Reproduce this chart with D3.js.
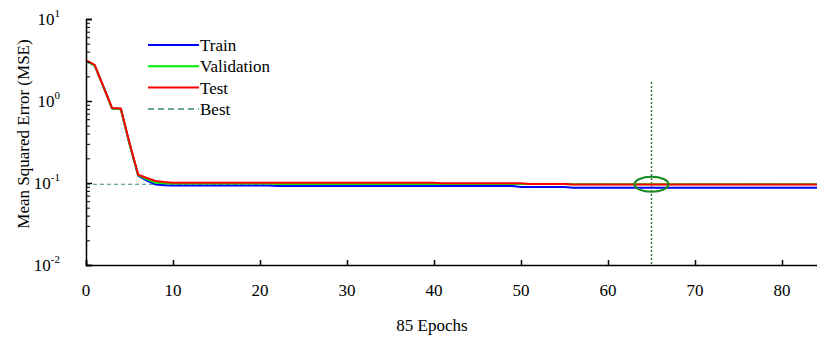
<!DOCTYPE html>
<html>
<head>
<meta charset="utf-8">
<script src="https://cdn.jsdelivr.net/npm/d3@7"></script>
<style>
  body { margin: 0; background: #fff; }
</style>
</head>
<body>
<script>
// canvas size
const width = 817;
const height = 337;
const font = "'Liberation Serif', 'DejaVu Serif', serif";

// data: epochs where the curves bend, and each series' MSE at those epochs
const epochs = [0, 1, 2, 3, 4, 5, 6, 7, 8, 9, 10, 21, 22, 40, 41, 49, 50, 51, 55, 56, 85];
const train = [3.1, 2.7, 1.5, 0.81, 0.8, 0.3, 0.122, 0.107, 0.096, 0.094, 0.0935, 0.0935, 0.092, 0.092, 0.092, 0.092, 0.0895, 0.0895, 0.0895, 0.0878, 0.0878];
const validation = [3.1, 2.7, 1.5, 0.81, 0.8, 0.3, 0.124, 0.111, 0.101, 0.0995, 0.0985, 0.0985, 0.0975, 0.0975, 0.0975, 0.0975, 0.0975, 0.097, 0.097, 0.0965, 0.0965];
const test = [3.15, 2.75, 1.5, 0.82, 0.81, 0.31, 0.126, 0.115, 0.106, 0.103, 0.101, 0.101, 0.101, 0.101, 0.099, 0.099, 0.099, 0.0975, 0.0975, 0.096, 0.096];
const bestEpoch = 65;
const bestValue = 0.0965;
const bestLineTop = 1.7;
const xTicks = [0, 10, 20, 30, 40, 50, 60, 70, 80];
const yTicks = [10, 1, 0.1, 0.01];
const yTickExp = ['1', '0', '-1', '-2'];
const legendNames = ['Train', 'Validation', 'Test', 'Best'];
const legendColors = ['#0000ff', '#00ee00', '#ff0000', '#3a8f6a'];

const svg = d3
  .select('body')
  .append('svg')
  .attr('width', width)
  .attr('height', height)
  .attr('font-family', font);

// scales
const xScale = d3.scaleLinear().domain([0, 85]).range([86, 825.5]);
const yScale = d3.scaleLog().domain([0.01, 10]).range([265, 19]);

// best lines (drawn under the curves)
svg
  .append('line')
  .attr('x1', xScale(0))
  .attr('x2', xScale(85))
  .attr('y1', yScale(bestValue))
  .attr('y2', yScale(bestValue))
  .attr('stroke', legendColors[3])
  .attr('stroke-width', 1)
  .attr('stroke-dasharray', '4,3');

svg
  .append('line')
  .attr('x1', xScale(bestEpoch))
  .attr('x2', xScale(bestEpoch))
  .attr('y1', yScale(bestLineTop))
  .attr('y2', yScale(0.01))
  .attr('stroke', '#2d7d46')
  .attr('stroke-width', 1.5)
  .attr('stroke-dasharray', '2,2');

// curves
const line = d3
  .line()
  .x(function(d, i) { return xScale(epochs[i]); })
  .y(function(d) { return yScale(d); });

[train, validation, test].forEach(function(s, k) {
  svg
    .append('path')
    .datum(s)
    .attr('d', line)
    .attr('fill', 'none')
    .attr('stroke', legendColors[k])
    .attr('stroke-width', 2);
});

// best circle
svg
  .append('ellipse')
  .attr('cx', xScale(bestEpoch))
  .attr('cy', yScale(bestValue))
  .attr('rx', 17)
  .attr('ry', 7.5)
  .attr('fill', 'none')
  .attr('stroke', '#138a22')
  .attr('stroke-width', 2);

// x axis
const xAxis = d3.axisBottom(xScale).tickValues(xTicks).tickSize(-5).tickFormat('');
const gx = svg
  .append('g')
  .attr('transform', 'translate(0,' + yScale(0.01) + ')')
  .call(xAxis);
gx.select('.domain').attr('stroke-width', 1.5);
gx.selectAll('.tick line').attr('stroke-width', 1.5);

svg
  .selectAll('.xlab')
  .data(xTicks)
  .enter()
  .append('text')
  .attr('class', 'xlab')
  .attr('x', function(d) { return xScale(d); })
  .attr('y', 296)
  .attr('text-anchor', 'middle')
  .style('font-size', '17px')
  .text(function(d) { return d; });

// y axis: major + minor ticks
const minor = [];
for (let e = -2; e < 1; e++) {
  for (let m = 2; m <= 9; m++) minor.push(m * Math.pow(10, e));
}
const yAxis = d3.axisLeft(yScale).tickValues(yTicks).tickSize(-6).tickFormat('');
const gy = svg
  .append('g')
  .attr('transform', 'translate(' + xScale(0) + ',0)')
  .call(yAxis);
gy.select('.domain').attr('stroke-width', 1.5);
gy.selectAll('.tick line').attr('stroke-width', 1.5);

svg
  .append('g')
  .attr('transform', 'translate(' + xScale(0) + ',0)')
  .call(d3.axisLeft(yScale).tickValues(minor).tickSize(-4).tickFormat(''))
  .call(function(g) { g.select('.domain').remove(); });

const ylab = svg
  .selectAll('.ylab')
  .data(yTicks)
  .enter()
  .append('text')
  .attr('class', 'ylab')
  .attr('x', 60)
  .attr('y', function(d) { return yScale(d) + 6; })
  .attr('text-anchor', 'end')
  .style('font-size', '17px');
ylab.append('tspan').text('10');
ylab
  .append('tspan')
  .attr('dy', -8)
  .style('font-size', '11px')
  .text(function(d, i) { return yTickExp[i]; });

// axis titles
svg
  .append('text')
  .attr('x', 432)
  .attr('y', 331)
  .attr('text-anchor', 'middle')
  .style('font-size', '17px')
  .text('85 Epochs');

svg
  .append('text')
  .attr('transform', 'translate(29,134) rotate(-90)')
  .attr('text-anchor', 'middle')
  .style('font-size', '17px')
  .text('Mean Squared Error (MSE)');

// legend
const legend = svg
  .selectAll('.legend')
  .data(legendNames)
  .enter()
  .append('g')
  .attr('class', 'legend')
  .attr('transform', function(d, i) { return 'translate(148,' + (45 + i * 21.3) + ')'; });
legend
  .append('line')
  .attr('x1', 0)
  .attr('x2', 51)
  .attr('stroke', function(d, i) { return legendColors[i]; })
  .attr('stroke-width', function(d, i) { return i === 3 ? 1.5 : 2; })
  .attr('stroke-dasharray', function(d, i) { return i === 3 ? '6,4' : null; });
legend
  .append('text')
  .attr('x', 52)
  .attr('y', 6)
  .style('font-size', '17px')
  .text(function(d) { return d; });
</script>
</body>
</html>
